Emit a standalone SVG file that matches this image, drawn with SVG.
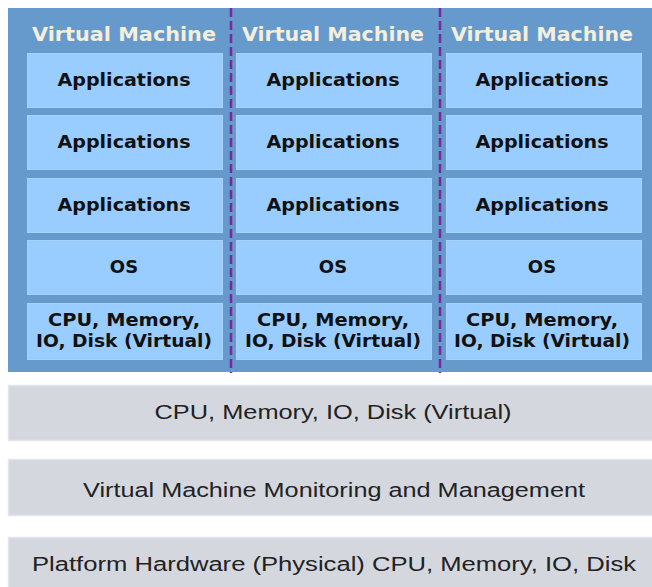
<svg xmlns="http://www.w3.org/2000/svg" width="652" height="587" viewBox="0 0 652 587">
<style>
.bg{fill:#6699cc;}
.box{fill:#99ccff;stroke:#a8d2fb;stroke-width:1;}
.vm{font-family:"DejaVu Sans",Verdana,sans-serif;font-weight:bold;font-size:19.5px;fill:#f4efdc;text-anchor:middle;}
.lbl{font-family:"DejaVu Sans",Verdana,sans-serif;font-weight:bold;font-size:18px;fill:#111;text-anchor:middle;}
.bar{fill:#d5d7df;stroke:#e4e5ea;stroke-width:1.5;}
.bartxt{font-family:"Liberation Sans",Arial,sans-serif;font-size:20px;fill:#222;text-anchor:middle;}
.sep{stroke:#7a2a96;stroke-width:2.5;stroke-dasharray:9 4;fill:none;}
</style>
<rect class="bg" x="8" y="8" width="644" height="364"/>
<g id="vm1">
<text class="vm" x="124" y="41" textLength="184" lengthAdjust="spacingAndGlyphs">Virtual Machine</text>
<g id="vm1-app1"><rect class="box" x="27.5" y="53.5" width="195" height="54"/><text class="lbl" x="124" y="86" textLength="133" lengthAdjust="spacingAndGlyphs">Applications</text></g>
<g id="vm1-app2"><rect class="box" x="27.5" y="115.5" width="195" height="54"/><text class="lbl" x="124" y="148" textLength="133" lengthAdjust="spacingAndGlyphs">Applications</text></g>
<g id="vm1-app3"><rect class="box" x="27.5" y="178.5" width="195" height="54"/><text class="lbl" x="124" y="211" textLength="133" lengthAdjust="spacingAndGlyphs">Applications</text></g>
<g id="vm1-os"><rect class="box" x="27.5" y="240.5" width="195" height="54"/><text class="lbl" x="124" y="273">OS</text></g>
<g id="vm1-hw"><rect class="box" x="27.5" y="303.5" width="195" height="56"/><text class="lbl" x="124" y="326" textLength="152" lengthAdjust="spacingAndGlyphs">CPU, Memory,</text><text class="lbl" x="124" y="347" textLength="176" lengthAdjust="spacingAndGlyphs">IO, Disk (Virtual)</text></g>
</g>
<g id="vm2">
<text class="vm" x="333" y="41" textLength="182" lengthAdjust="spacingAndGlyphs">Virtual Machine</text>
<g id="vm2-app1"><rect class="box" x="236.5" y="53.5" width="195" height="54"/><text class="lbl" x="333" y="86" textLength="133" lengthAdjust="spacingAndGlyphs">Applications</text></g>
<g id="vm2-app2"><rect class="box" x="236.5" y="115.5" width="195" height="54"/><text class="lbl" x="333" y="148" textLength="133" lengthAdjust="spacingAndGlyphs">Applications</text></g>
<g id="vm2-app3"><rect class="box" x="236.5" y="178.5" width="195" height="54"/><text class="lbl" x="333" y="211" textLength="133" lengthAdjust="spacingAndGlyphs">Applications</text></g>
<g id="vm2-os"><rect class="box" x="236.5" y="240.5" width="195" height="54"/><text class="lbl" x="333" y="273">OS</text></g>
<g id="vm2-hw"><rect class="box" x="236.5" y="303.5" width="195" height="56"/><text class="lbl" x="333" y="326" textLength="152" lengthAdjust="spacingAndGlyphs">CPU, Memory,</text><text class="lbl" x="333" y="347" textLength="176" lengthAdjust="spacingAndGlyphs">IO, Disk (Virtual)</text></g>
</g>
<g id="vm3">
<text class="vm" x="542" y="41" textLength="182" lengthAdjust="spacingAndGlyphs">Virtual Machine</text>
<g id="vm3-app1"><rect class="box" x="446.5" y="53.5" width="195" height="54"/><text class="lbl" x="542" y="86" textLength="133" lengthAdjust="spacingAndGlyphs">Applications</text></g>
<g id="vm3-app2"><rect class="box" x="446.5" y="115.5" width="195" height="54"/><text class="lbl" x="542" y="148" textLength="133" lengthAdjust="spacingAndGlyphs">Applications</text></g>
<g id="vm3-app3"><rect class="box" x="446.5" y="178.5" width="195" height="54"/><text class="lbl" x="542" y="211" textLength="133" lengthAdjust="spacingAndGlyphs">Applications</text></g>
<g id="vm3-os"><rect class="box" x="446.5" y="240.5" width="195" height="54"/><text class="lbl" x="542" y="273">OS</text></g>
<g id="vm3-hw"><rect class="box" x="446.5" y="303.5" width="195" height="56"/><text class="lbl" x="542" y="326" textLength="152" lengthAdjust="spacingAndGlyphs">CPU, Memory,</text><text class="lbl" x="542" y="347" textLength="176" lengthAdjust="spacingAndGlyphs">IO, Disk (Virtual)</text></g>
</g>
<g id="separators">
<line class="sep" x1="231" y1="8" x2="231" y2="373"/>
<line class="sep" x1="440" y1="8" x2="440" y2="373"/>
</g>
<g id="virtual-hw"><rect class="bar" x="8.5" y="385.5" width="650" height="55"/><text class="bartxt" x="333" y="419" textLength="357" lengthAdjust="spacingAndGlyphs">CPU, Memory, IO, Disk (Virtual)</text></g>
<g id="vmm"><rect class="bar" x="8.5" y="459.5" width="650" height="56"/><text class="bartxt" x="334" y="497" textLength="502" lengthAdjust="spacingAndGlyphs">Virtual Machine  Monitoring and Management</text></g>
<g id="platform-hw"><rect class="bar" x="8.5" y="537.5" width="650" height="56"/><text class="bartxt" x="334" y="571" textLength="604" lengthAdjust="spacingAndGlyphs">Platform Hardware (Physical) CPU, Memory, IO, Disk</text></g>
</svg>
